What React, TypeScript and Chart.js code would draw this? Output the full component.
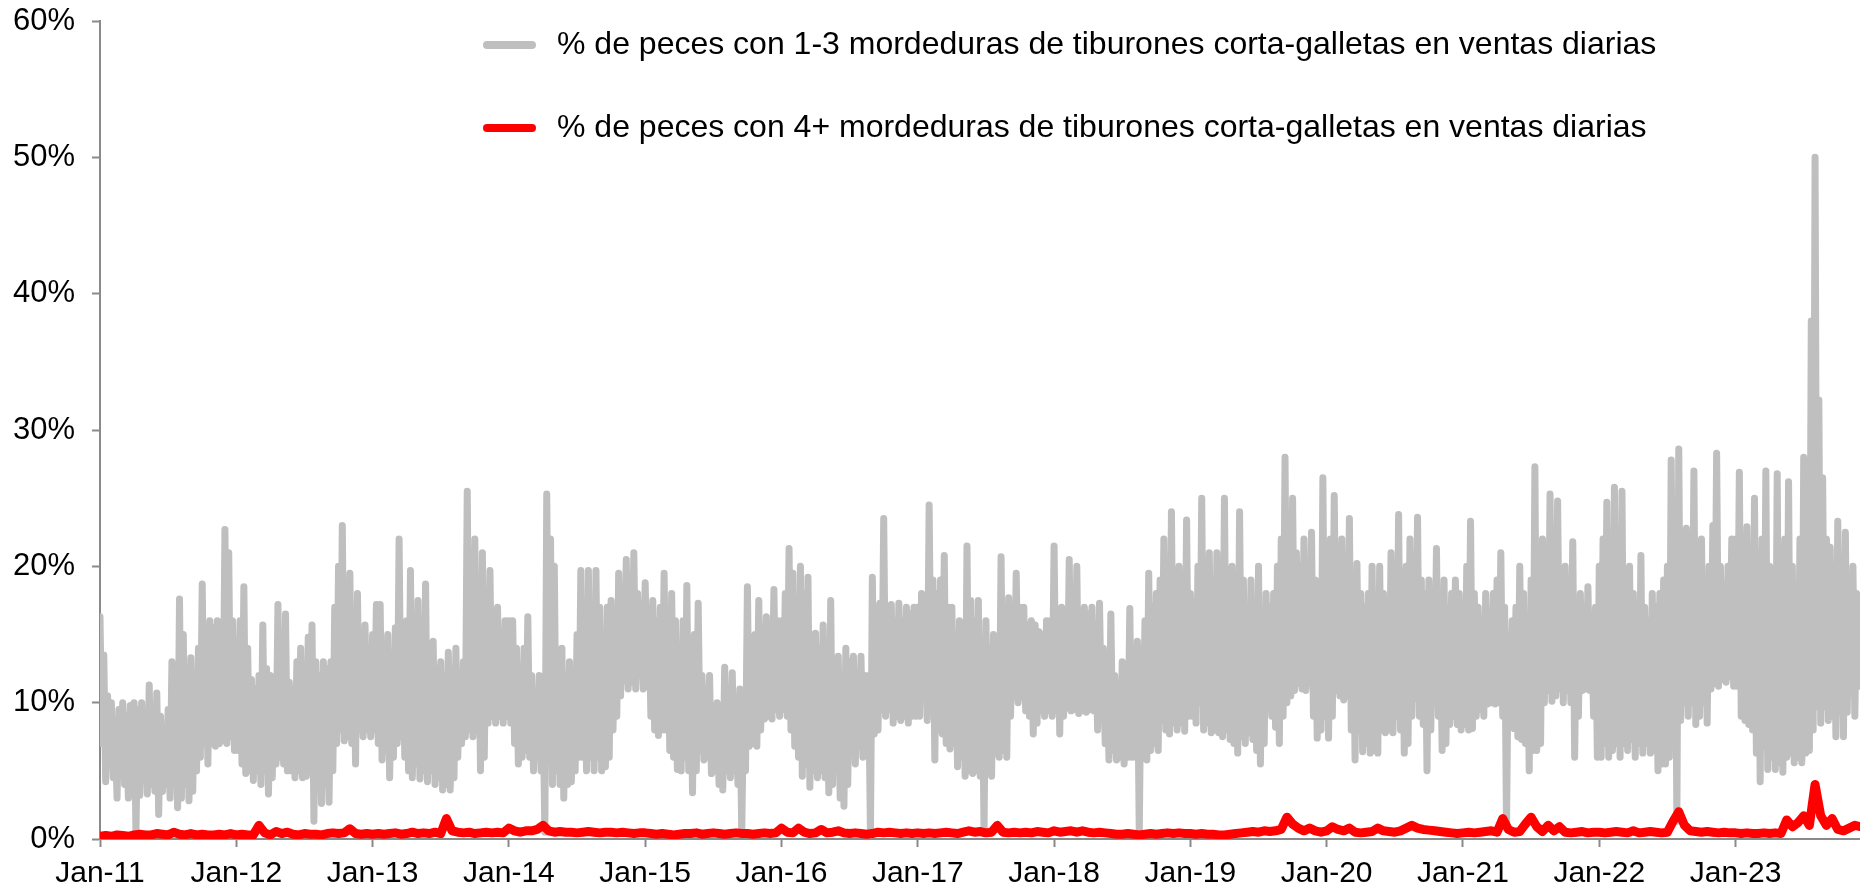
import React, { useEffect, useRef } from 'react';
import { Chart, registerables } from 'chart.js';

Chart.register(...registerables);

// ---------- labels ----------
const xTickLabels = ['Jan-11', 'Jan-12', 'Jan-13', 'Jan-14', 'Jan-15', 'Jan-16', 'Jan-17', 'Jan-18', 'Jan-19', 'Jan-20', 'Jan-21', 'Jan-22', 'Jan-23'];
const yTickLabels = ['0%', '10%', '20%', '30%', '40%', '50%', '60%'];
const seriesLabels = [
  '% de peces con 1-3 mordeduras de tiburones corta-galletas en ventas diarias',
  '% de peces con 4+ mordeduras de tiburones corta-galletas en ventas diarias',
];

// ---------- series 1: % fish with 1-3 bites ----------
// daily values swing up and down; read as alternating local highs / lows (36 of each per year)
const gray2011Highs = [16.3, 13.5, 10.5, 10.0, 8.0, 9.5, 10.0, 9.0, 9.8, 10.0, 9.5, 10.0, 9.0, 11.3, 9.5, 10.7, 9.0, 8.0, 9.5, 13.0, 9.8, 17.6, 15.0, 12.5, 13.3, 12.0, 14.0, 18.7, 15.5, 16.0, 15.5, 16.0, 15.0, 22.7, 21.0, 16.0];
const gray2011Lows = [7.0, 4.2, 5.5, 4.5, 3.0, 5.0, 4.0, 3.0, 5.0, 0.4, 3.2, 4.5, 3.3, 4.0, 3.5, 1.8, 3.5, 4.0, 3.0, 5.0, 2.3, 3.0, 4.0, 2.8, 3.5, 5.0, 6.0, 7.0, 5.5, 7.0, 6.8, 7.0, 7.2, 7.0, 7.5, 6.5];
const gray2012Highs = [14.5, 16.0, 18.5, 14.0, 11.7, 11.0, 12.0, 15.7, 12.5, 12.0, 11.5, 17.2, 14.0, 16.5, 11.5, 11.0, 13.0, 14.0, 12.0, 14.8, 15.7, 13.0, 12.0, 13.0, 12.5, 13.0, 17.0, 20.0, 23.0, 17.5, 19.5, 16.0, 18.0, 14.0, 15.7, 14.0];
const gray2012Lows = [6.5, 5.5, 4.8, 5.0, 4.3, 5.0, 4.0, 5.0, 3.3, 4.5, 5.5, 6.0, 5.5, 5.0, 5.0, 4.5, 5.0, 4.5, 4.6, 5.0, 1.3, 4.0, 2.6, 4.0, 2.7, 5.0, 7.0, 8.0, 7.2, 7.5, 7.0, 5.5, 8.0, 7.5, 8.0, 7.5];
const gray2013Highs = [15.0, 17.2, 17.2, 14.0, 15.0, 13.0, 15.5, 22.0, 15.0, 16.0, 19.7, 15.0, 17.5, 14.0, 18.7, 13.0, 14.5, 12.5, 13.0, 12.0, 13.7, 12.5, 14.0, 12.0, 13.0, 25.5, 18.0, 22.0, 17.0, 21.0, 17.0, 19.7, 16.0, 17.0, 15.0, 16.0];
const gray2013Lows = [8.0, 7.0, 5.8, 6.5, 4.5, 6.0, 7.0, 7.5, 6.0, 5.0, 4.5, 5.5, 4.4, 5.0, 4.2, 5.0, 4.0, 4.5, 3.6, 4.0, 3.6, 4.5, 6.0, 7.0, 7.5, 8.0, 7.5, 8.0, 5.0, 6.0, 8.5, 9.0, 8.5, 9.0, 8.5, 9.0];
const gray2014Highs = [16.0, 16.0, 14.0, 12.5, 14.0, 16.3, 12.0, 10.0, 12.0, 10.0, 25.3, 22.0, 20.0, 13.5, 14.0, 12.0, 13.0, 12.0, 15.0, 19.7, 16.0, 19.7, 17.0, 19.7, 17.0, 15.0, 17.0, 17.5, 15.0, 19.5, 18.0, 20.5, 18.0, 21.0, 18.0, 16.0];
const gray2014Lows = [8.5, 7.0, 5.5, 6.0, 6.5, 6.0, 5.0, 6.0, 5.0, 0.5, 6.0, 4.0, 5.0, 4.0, 3.0, 4.0, 4.2, 5.0, 6.0, 6.0, 5.0, 6.0, 5.0, 6.0, 5.0, 5.3, 6.0, 8.0, 9.0, 10.5, 11.6, 11.0, 11.5, 11.0, 12.0, 11.0];
const gray2015Highs = [18.8, 17.0, 17.5, 16.0, 17.0, 19.5, 15.0, 18.0, 16.0, 14.0, 16.0, 18.6, 14.0, 15.0, 17.3, 12.0, 11.0, 12.0, 9.7, 10.0, 9.0, 12.6, 10.0, 12.2, 10.0, 11.0, 10.0, 18.5, 14.0, 15.0, 17.5, 14.0, 16.3, 14.7, 18.3, 16.0];
const gray2015Lows = [11.2, 9.0, 8.0, 7.6, 8.0, 8.0, 6.5, 6.0, 5.1, 5.0, 6.0, 5.0, 3.4, 5.0, 6.5, 5.8, 6.0, 4.8, 5.0, 4.0, 3.6, 5.0, 4.5, 5.0, 4.0, 0.4, 5.0, 6.8, 7.0, 6.8, 8.0, 8.8, 9.0, 8.8, 9.5, 9.0];
const gray2016Highs = [16.0, 18.0, 21.3, 19.5, 17.0, 20.0, 18.0, 19.2, 15.0, 15.1, 14.0, 15.7, 14.0, 17.5, 13.0, 13.4, 12.0, 14.0, 13.0, 13.4, 12.0, 13.4, 12.0, 12.0, 19.2, 17.0, 17.3, 23.5, 17.0, 17.2, 16.0, 17.3, 16.0, 17.0, 16.5, 17.0];
const gray2016Lows = [9.5, 9.0, 8.0, 6.8, 6.0, 4.6, 5.5, 3.8, 5.0, 4.5, 5.0, 4.5, 3.4, 4.0, 5.0, 3.0, 2.4, 4.0, 6.8, 5.5, 6.8, 6.0, 7.0, 0.3, 7.7, 8.0, 9.5, 9.0, 9.5, 8.5, 9.0, 8.7, 9.0, 8.5, 9.0, 9.0];
const gray2017Highs = [17.0, 18.0, 17.0, 24.5, 19.0, 18.0, 19.0, 20.8, 17.0, 17.0, 15.0, 16.0, 15.0, 21.5, 17.5, 16.0, 17.5, 14.0, 16.0, 14.0, 15.0, 14.0, 20.7, 16.0, 17.7, 16.0, 19.5, 17.0, 17.0, 15.7, 16.0, 15.7, 15.2, 15.0, 16.0, 16.0];
const gray2017Lows = [9.0, 10.5, 8.7, 10.0, 5.8, 8.0, 7.7, 7.0, 6.6, 7.0, 5.3, 6.0, 4.6, 5.0, 4.8, 5.0, 4.6, 0.4, 5.0, 4.6, 6.3, 6.0, 6.5, 6.0, 9.0, 10.4, 10.0, 10.4, 9.4, 9.0, 7.7, 8.5, 9.4, 9.0, 9.4, 9.0];
const gray2018Highs = [21.5, 16.0, 17.0, 16.0, 20.5, 17.0, 20.0, 16.5, 17.0, 16.5, 17.0, 15.0, 17.3, 14.0, 12.4, 16.5, 12.0, 11.0, 13.0, 12.0, 16.9, 14.0, 14.5, 14.0, 16.0, 19.5, 17.0, 18.0, 19.0, 22.0, 19.0, 24.0, 19.0, 20.0, 18.0, 23.4];
const gray2018Lows = [9.4, 7.7, 9.0, 9.6, 9.4, 9.5, 9.2, 9.4, 9.3, 9.5, 9.4, 8.0, 9.0, 7.0, 5.8, 6.5, 5.8, 6.0, 5.5, 6.0, 6.0, 6.0, 0.4, 6.5, 5.8, 6.5, 7.0, 6.5, 8.7, 8.0, 7.7, 8.5, 8.0, 8.5, 7.9, 9.0];
const gray2019Highs = [18.0, 16.0, 20.0, 25.0, 19.0, 21.0, 19.0, 21.0, 18.0, 25.0, 18.0, 20.0, 18.0, 24.0, 19.0, 17.0, 19.0, 17.0, 20.0, 16.0, 18.0, 17.0, 18.0, 20.0, 22.0, 28.0, 22.0, 25.0, 21.0, 20.0, 22.0, 20.0, 22.5, 19.0, 18.0, 26.5];
const gray2019Lows = [9.0, 8.5, 10.0, 8.0, 8.5, 7.8, 8.0, 7.8, 7.5, 8.0, 7.3, 7.0, 6.3, 7.5, 7.0, 7.8, 7.3, 6.5, 5.5, 7.0, 9.6, 9.0, 8.2, 7.0, 9.0, 10.0, 10.5, 10.9, 11.4, 11.0, 10.9, 11.4, 9.0, 7.4, 8.0, 9.0];
const gray2020Highs = [20.0, 22.0, 25.2, 20.0, 22.0, 20.0, 23.5, 19.0, 20.2, 18.0, 17.0, 18.0, 20.0, 17.0, 20.0, 18.0, 17.0, 21.0, 18.0, 23.8, 18.0, 20.0, 22.0, 18.0, 23.6, 19.0, 18.0, 19.0, 17.0, 21.3, 17.0, 19.0, 17.0, 18.0, 19.0, 18.0];
const gray2020Lows = [7.4, 9.0, 10.9, 10.5, 10.2, 10.5, 8.0, 5.8, 8.0, 6.4, 7.0, 6.3, 6.5, 6.3, 8.0, 7.8, 8.0, 7.8, 9.0, 8.0, 6.3, 7.0, 9.0, 10.3, 9.0, 8.4, 5.0, 8.0, 10.0, 9.0, 6.5, 7.0, 8.4, 9.0, 8.4, 8.0];
const gray2021Highs = [17.0, 20.0, 23.3, 18.0, 17.0, 16.0, 18.0, 16.0, 18.0, 19.0, 21.0, 17.0, 15.0, 16.0, 17.0, 20.0, 18.0, 16.0, 19.0, 27.3, 20.0, 22.0, 20.0, 25.3, 21.0, 24.8, 19.0, 20.0, 18.0, 21.8, 17.0, 18.0, 17.0, 18.5, 16.0, 17.0];
const gray2021Lows = [8.4, 8.0, 8.1, 9.0, 9.5, 9.0, 9.9, 10.0, 9.9, 10.0, 9.0, 0.8, 8.5, 8.1, 7.5, 7.3, 7.0, 5.0, 6.5, 6.5, 7.0, 10.0, 10.9, 10.1, 10.5, 11.0, 10.0, 10.9, 10.0, 6.0, 9.0, 10.9, 11.0, 10.9, 9.0, 6.0];
const gray2022Highs = [20.0, 22.0, 24.7, 20.0, 25.8, 22.0, 25.5, 18.0, 20.0, 18.0, 17.0, 20.8, 17.0, 16.0, 18.0, 17.0, 18.0, 19.0, 20.0, 27.8, 22.0, 28.6, 20.0, 22.8, 20.0, 27.0, 20.0, 22.0, 19.0, 20.0, 23.0, 28.3, 20.0, 18.0, 20.0, 22.0];
const gray2022Lows = [6.0, 7.0, 6.0, 6.5, 7.0, 6.0, 7.0, 6.5, 7.3, 6.0, 7.0, 6.3, 7.0, 6.3, 6.5, 5.0, 5.5, 5.5, 6.0, 8.0, 1.3, 8.7, 10.0, 9.0, 10.0, 8.4, 9.0, 10.0, 8.5, 11.0, 11.4, 11.2, 11.7, 11.5, 11.9, 11.2];
const gray2023Highs = [22.0, 26.9, 20.0, 22.9, 20.0, 25.0, 21.0, 22.0, 27.0, 20.0, 18.0, 26.8, 20.0, 22.0, 26.2, 20.0, 18.0, 22.0, 28.0, 24.0, 38.0, 50.0, 32.2, 26.5, 22.0, 21.4, 20.0, 23.3, 19.7, 22.5, 19.0, 20.0, 18.0];
const gray2023Lows = [11.2, 9.0, 8.7, 8.4, 8.0, 6.3, 4.2, 6.8, 5.1, 6.0, 5.1, 5.6, 4.9, 6.0, 6.3, 5.6, 6.0, 5.6, 6.3, 6.5, 8.0, 9.7, 8.5, 9.7, 8.7, 9.0, 7.5, 9.3, 7.5, 9.3, 11.2, 9.0, 11.2];

// ---------- series 2: % fish with 4+ bites (24 readings per year) ----------
const red2011 = [0.2, 0.25, 0.2, 0.3, 0.25, 0.2, 0.3, 0.35, 0.3, 0.3, 0.4, 0.35, 0.3, 0.5, 0.35, 0.3, 0.4, 0.3, 0.35, 0.3, 0.3, 0.35, 0.3, 0.4];
const red2012 = [0.3, 0.35, 0.3, 0.3, 1.0, 0.45, 0.3, 0.55, 0.4, 0.5, 0.35, 0.3, 0.4, 0.35, 0.35, 0.3, 0.4, 0.45, 0.4, 0.45, 0.75, 0.4, 0.35, 0.4];
const red2013 = [0.35, 0.4, 0.35, 0.4, 0.45, 0.35, 0.4, 0.5, 0.4, 0.45, 0.4, 0.5, 0.4, 1.5, 0.6, 0.5, 0.45, 0.5, 0.4, 0.45, 0.5, 0.45, 0.5, 0.45];
const red2014 = [0.8, 0.6, 0.5, 0.6, 0.6, 0.7, 1.0, 0.6, 0.5, 0.55, 0.5, 0.5, 0.45, 0.5, 0.55, 0.5, 0.45, 0.5, 0.5, 0.45, 0.5, 0.45, 0.4, 0.45];
const red2015 = [0.45, 0.4, 0.35, 0.4, 0.35, 0.3, 0.35, 0.4, 0.4, 0.45, 0.35, 0.4, 0.45, 0.4, 0.35, 0.4, 0.45, 0.4, 0.4, 0.35, 0.4, 0.45, 0.4, 0.45];
const red2016 = [0.8, 0.5, 0.45, 0.8, 0.5, 0.4, 0.45, 0.7, 0.45, 0.5, 0.6, 0.45, 0.4, 0.45, 0.4, 0.35, 0.4, 0.5, 0.45, 0.5, 0.45, 0.4, 0.45, 0.4];
const red2017 = [0.45, 0.4, 0.45, 0.4, 0.45, 0.5, 0.45, 0.4, 0.5, 0.6, 0.5, 0.55, 0.45, 0.5, 1.0, 0.5, 0.45, 0.5, 0.45, 0.5, 0.45, 0.55, 0.5, 0.45];
const red2018 = [0.6, 0.5, 0.55, 0.6, 0.5, 0.6, 0.5, 0.45, 0.5, 0.45, 0.4, 0.35, 0.35, 0.4, 0.35, 0.3, 0.35, 0.4, 0.35, 0.4, 0.45, 0.4, 0.45, 0.4];
const red2019 = [0.4, 0.35, 0.4, 0.35, 0.35, 0.3, 0.3, 0.35, 0.4, 0.45, 0.5, 0.55, 0.5, 0.6, 0.55, 0.6, 0.7, 1.6, 1.1, 0.8, 0.6, 0.8, 0.6, 0.5];
const red2020 = [0.6, 0.9, 0.7, 0.6, 0.8, 0.5, 0.45, 0.5, 0.55, 0.8, 0.6, 0.55, 0.5, 0.6, 0.8, 1.0, 0.8, 0.7, 0.65, 0.6, 0.55, 0.5, 0.45, 0.4];
const red2021 = [0.45, 0.5, 0.45, 0.5, 0.55, 0.6, 0.5, 1.5, 0.7, 0.5, 0.55, 1.1, 1.6, 0.9, 0.55, 1.0, 0.6, 0.9, 0.5, 0.45, 0.5, 0.55, 0.45, 0.5];
const red2022 = [0.5, 0.45, 0.5, 0.55, 0.5, 0.45, 0.6, 0.45, 0.5, 0.55, 0.5, 0.45, 0.5, 1.3, 2.0, 1.0, 0.6, 0.55, 0.5, 0.55, 0.5, 0.45, 0.5, 0.45];
const red2023 = [0.45, 0.4, 0.45, 0.4, 0.4, 0.45, 0.4, 0.45, 0.4, 1.4, 0.9, 1.2, 1.7, 1.0, 4.0, 1.7, 1.0, 1.5, 0.7, 0.6, 0.8, 1.0, 0.9];

const grayHighYears = [gray2011Highs, gray2012Highs, gray2013Highs, gray2014Highs, gray2015Highs, gray2016Highs, gray2017Highs, gray2018Highs, gray2019Highs, gray2020Highs, gray2021Highs, gray2022Highs, gray2023Highs];
const grayLowYears = [gray2011Lows, gray2012Lows, gray2013Lows, gray2014Lows, gray2015Lows, gray2016Lows, gray2017Lows, gray2018Lows, gray2019Lows, gray2020Lows, gray2021Lows, gray2022Lows, gray2023Lows];
const redYears = [red2011, red2012, red2013, red2014, red2015, red2016, red2017, red2018, red2019, red2020, red2021, red2022, red2023];
const GRAY_PER_YEAR = 36;
const RED_PER_YEAR = 24;
const X_END_YEARS = 12.913; // axis runs from Jan-11 to late Nov 2023

function grayPoints() {
  const pts: { x: number; y: number }[] = [];
  grayHighYears.forEach((highs, k) => {
    const lows = grayLowYears[k];
    highs.forEach((h, i) => {
      pts.push({ x: k + i / GRAY_PER_YEAR, y: h });
      pts.push({ x: k + (i + 0.5) / GRAY_PER_YEAR, y: lows[i] });
    });
  });
  return pts;
}

function redPoints() {
  const pts: { x: number; y: number }[] = [];
  redYears.forEach((vals, k) => vals.forEach((v, i) => pts.push({ x: k + i / RED_PER_YEAR, y: v })));
  return pts;
}

// ---------- styles ----------
const FONT = "'Liberation Sans', Arial, Helvetica, sans-serif";
const AXIS_COLOR = '#8a8a8a';
const GRAY = '#bfbfbf';
const RED = '#ff0000';

const legendPlugin = {
  id: 'manualLegend',
  afterDraw(chart: any) {
    const ctx = chart.ctx;
    const rows = [45, 128];
    ctx.save();
    chart.data.datasets.forEach((ds: any, idx: number) => {
      const y = rows[idx];
      ctx.beginPath();
      ctx.lineWidth = 8;
      ctx.lineCap = 'round';
      ctx.strokeStyle = ds.borderColor;
      ctx.moveTo(487, y);
      ctx.lineTo(532, y);
      ctx.stroke();
      ctx.fillStyle = '#000';
      ctx.font = `32px ${FONT}`;
      ctx.textBaseline = 'middle';
      ctx.textAlign = 'left';
      ctx.fillText(ds.label, 557, y);
    });
    ctx.restore();
  },
};

export default function App() {
  const ref = useRef<HTMLCanvasElement | null>(null);

  useEffect(() => {
    if (!ref.current) return;
    const chart = new Chart(ref.current, {
      type: 'line',
      data: {
        datasets: [
          {
            label: seriesLabels[0],
            data: grayPoints(),
            borderColor: GRAY,
            backgroundColor: GRAY,
            borderWidth: 7,
            borderJoinStyle: 'round',
            borderCapStyle: 'round',
            pointRadius: 0,
            tension: 0,
            fill: false,
            order: 2,
          },
          {
            label: seriesLabels[1],
            data: redPoints(),
            borderColor: RED,
            backgroundColor: RED,
            borderWidth: 9,
            borderJoinStyle: 'round',
            borderCapStyle: 'round',
            pointRadius: 0,
            tension: 0,
            fill: false,
            order: 1,
          },
        ],
      },
      options: {
        animation: false,
        responsive: false,
        devicePixelRatio: 1,
        events: [],
        layout: { padding: { top: 21, left: 0, right: 0, bottom: 0 } },
        plugins: { legend: { display: false }, tooltip: { enabled: false } },
        scales: {
          x: {
            type: 'linear',
            min: 0,
            max: X_END_YEARS,
            ticks: {
              stepSize: 1,
              includeBounds: false,
              autoSkip: false,
              maxRotation: 0,
              padding: 9,
              color: '#000',
              font: { family: FONT, size: 30 },
              callback: (v: any) => xTickLabels[Math.round(Number(v))] ?? '',
            },
            grid: { display: true, drawOnChartArea: false, drawTicks: true, tickLength: 8, color: AXIS_COLOR, tickColor: AXIS_COLOR, tickWidth: 2 },
            border: { display: true, color: AXIS_COLOR, width: 2 },
            afterFit: (s: any) => { s.height = 51; },
          },
          y: {
            type: 'linear',
            min: 0,
            max: 60,
            ticks: {
              stepSize: 10,
              padding: 17,
              color: '#000',
              font: { family: FONT, size: 31 },
              callback: (v: any) => yTickLabels[Math.round(Number(v) / 10)] ?? '',
            },
            grid: { display: true, drawOnChartArea: false, drawTicks: true, tickLength: 8, color: AXIS_COLOR, tickColor: AXIS_COLOR, tickWidth: 2 },
            border: { display: true, color: AXIS_COLOR, width: 2 },
            afterFit: (s: any) => { s.width = 100; s.paddingTop = 0; s.paddingBottom = 0; },
          },
        },
      },
      plugins: [legendPlugin],
    } as any);
    return () => chart.destroy();
  }, []);

  return (
    <div style={{ position: 'absolute', left: 0, top: 0, width: 1860, height: 890, background: '#fff' }}>
      <canvas ref={ref} width={1860} height={890} style={{ display: 'block', width: 1860, height: 890 }} />
    </div>
  );
}
